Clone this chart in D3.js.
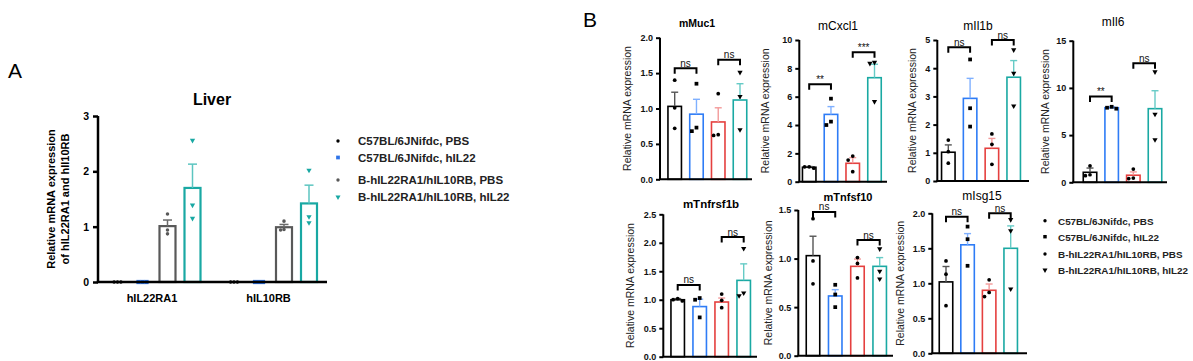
<!DOCTYPE html>
<html><head><meta charset="utf-8">
<script src="https://cdn.jsdelivr.net/npm/d3@7"></script>
<style>body{margin:0;background:#fff}svg{display:block}text{font-family:"Liberation Sans",Arial,sans-serif}</style>
</head><body><svg id="c" width="1193" height="361"></svg>
<script>
// ---------- DATA ----------
const groups = ["C57BL/6JNifdc, PBS","C57BL/6JNifdc, hIL22","B-hIL22RA1/hIL10RB, PBS","B-hIL22RA1/hIL10RB, hIL22"];
// Panel A
const genesA = ["hIL22RA1","hIL10RB"];
const ticksA = [0,1,2,3];
const meanA_hIL22RA1 = [0,0,1.01,1.70];
const semA_hIL22RA1  = [0,0,0.11,0.43];
const ptsA_hIL22RA1  = [[0,0,0],[0,0,0],[1.23,0.94,0.87],[2.56,1.39,1.15]];
const meanA_hIL10RB  = [0,0,0.99,1.42];
const semA_hIL10RB   = [0,0,0.05,0.33];
const ptsA_hIL10RB   = [[0,0,0],[0,0,0],[1.10,0.95,0.94],[2.02,1.18,1.07]];
// Panel B
const genesB = ["mMuc1","mCxcl1","mIl1b","mIl6","mTnfrsf1b","mTnfsf10","mIsg15"];
const mMuc1_mean = [1.03,0.92,0.81,1.12];
const mMuc1_sem  = [0.20,0.21,0.20,0.23];
const mMuc1_pts  = [[1.40,1.01,0.72],[1.35,0.73,0.68],[1.21,0.63,0.62],[1.51,1.17,0.70]];
const mMuc1_sig  = [[0,1,1.57,"ns"],[2,3,1.69,"ns"]];
const mMuc1_ticks = [0,0.5,1,1.5,2];
const mCxcl1_mean = [1.02,4.75,1.30,7.34];
const mCxcl1_sem  = [0.05,0.55,0.40,0.95];
const mCxcl1_pts  = [[0.95,1.05,1.05],[5.86,4.24,4.00],[1.81,1.53,0.71],[8.35,8.42,5.65]];
const mCxcl1_sig  = [[0,1,6.87,"**"],[2,3,9.13,"***"]];
const mCxcl1_ticks = [0,2,4,6,8,10];
const mIl1b_mean = [1.02,2.93,1.16,3.68];
const mIl1b_sem  = [0.26,0.71,0.35,0.59];
const mIl1b_pts  = [[1.45,1.04,0.63],[4.31,2.58,1.93],[1.67,1.30,0.59],[4.65,3.82,2.66]];
const mIl1b_sig  = [[0,1,4.74,"ns"],[2,3,5.0,"ns"]];
const mIl1b_ticks = [0,1,2,3,4,5];
const mIl6_mean = [1.06,7.90,0.75,7.80];
const mIl6_sem  = [0.45,0.10,0.35,1.90];
const mIl6_pts  = [[1.75,0.80,0.70],[7.80,8.00,7.90],[1.40,0.45,0.40],[11.7,7.20,4.50]];
const mIl6_sig  = [[0,1,9.1,"**"],[2,3,12.6,"ns"]];
const mIl6_ticks = [0,5,10,15];
const mTnfrsf1b_mean = [1.00,0.88,0.96,1.34];
const mTnfrsf1b_sem  = [0.02,0.13,0.07,0.29];
const mTnfrsf1b_pts  = [[0.98,1.02,1.00],[1.03,1.00,0.69],[1.10,0.99,0.86],[1.90,1.12,1.07]];
const mTnfrsf1b_sig  = [[0,1,1.26,"ns"],[2,3,2.10,"ns"]];
const mTnfrsf1b_ticks = [0,0.5,1,1.5,2,2.5];
const mTnfsf10_mean = [1.03,0.615,0.92,0.92];
const mTnfsf10_sem  = [0.20,0.065,0.075,0.09];
const mTnfsf10_pts  = [[1.41,0.975,0.74],[0.73,0.63,0.50],[1.01,0.95,0.80],[1.10,0.87,0.79]];
const mTnfsf10_sig  = [[0,1,1.48,"ns"],[2,3,1.19,"ns"]];
const mTnfsf10_ticks = [0,0.5,1,1.5];
const mIsg15_mean = [1.02,1.55,0.90,1.50];
const mIsg15_sem  = [0.22,0.16,0.09,0.32];
const mIsg15_pts  = [[1.32,1.13,0.68],[1.81,1.63,1.25],[1.05,0.87,0.81],[1.91,1.75,0.92]];
const mIsg15_sig  = [[0,1,1.95,"ns"],[2,3,2.0,"ns"]];
const mIsg15_ticks = [0,0.5,1,1.5,2];

// ---------- STYLE / LAYOUT ----------
const colA = ["#000000","#2f74e8","#595959","#19a8a3"];
const errA = ["#000000","#2f74e8","#6a6a6a","#5cc5c0"];
const colB = ["#000000","#2e7cf6","#e5403f","#1aa9a3"];
const errB = ["#555555","#7fb0ff","#f39a9a","#66cbc6"];
const shapes = [d3.symbolCircle, d3.symbolSquare, d3.symbolCircle, d3.symbolTriangle];

const svg = d3.select("#c");

function marker(g, shapeIdx, x, y, size, color){
  const s = d3.symbol().type(shapes[shapeIdx]).size(size);
  g.append("path").attr("d", s()).attr("fill", color)
   .attr("transform", `translate(${x},${y})` + (shapeIdx===3 ? " rotate(180)" : ""));
}
function swarm(vals, ys, d){
  const placed = [];
  const order = vals.map((v,i)=>i).sort((a,b)=>vals[b]-vals[a]);
  const out = [];
  order.forEach(i=>{
    const y = ys(vals[i]);
    const cands = [0,-d,d,-2*d,2*d];
    let off = 0;
    for(const c of cands){
      if(placed.every(p=>Math.hypot(p[0]-c,p[1]-y) >= d*0.95)){ off=c; break; }
    }
    placed.push([off,y]); out[i]=[off,y];
  });
  return out;
}

// ---------- PANEL A ----------
(function(){
  const g = svg.append("g");
  g.append("text").attr("x",8).attr("y",78).attr("font-size",21).text("A");
  const ax = 98, yTop=116, yBot=282, xEnd=327;
  const y = d3.scaleLinear().domain([0,3]).range([yBot,yTop]);
  const gx = d3.scalePoint().domain(genesA).range([155,271.5]);
  const sx = d3.scalePoint().domain(d3.range(4)).range([-37.5,37.5]);
  const means = {hIL22RA1:meanA_hIL22RA1, hIL10RB:meanA_hIL10RB};
  const sems = {hIL22RA1:semA_hIL22RA1, hIL10RB:semA_hIL10RB};
  const pts = {hIL22RA1:ptsA_hIL22RA1, hIL10RB:ptsA_hIL10RB};
  const bw = 16;
  genesA.forEach(gene=>{
    groups.forEach((grp,i)=>{
      const cx = gx(gene)+sx(i);
      const m = means[gene][i], s = sems[gene][i];
      if(m>0){
        g.append("rect").attr("x",cx-bw/2).attr("y",y(m)).attr("width",bw).attr("height",yBot-y(m))
         .attr("fill","#fff").attr("stroke",colA[i]).attr("stroke-width",2.2);
        g.append("line").attr("x1",cx).attr("x2",cx).attr("y1",y(m)).attr("y2",y(m+s)).attr("stroke",errA[i]).attr("stroke-width",1.5);
        g.append("line").attr("x1",cx-4.5).attr("x2",cx+4.5).attr("y1",y(m+s)).attr("y2",y(m+s)).attr("stroke",errA[i]).attr("stroke-width",1.5);
      }
      const d = i===1 ? 4 : 3.4;
      const sw = swarm(pts[gene][i], y, d);
      sw.forEach(p=>marker(g, i, cx+p[0], p[1], i===1?18:(i===3?12:10), colA[i]));
    });
  });
  const ya = d3.axisLeft(y).tickValues(ticksA).tickSize(5).tickPadding(4).tickFormat(d3.format("d"));
  const yg = g.append("g").attr("transform",`translate(${ax},0)`).call(ya);
  yg.select(".domain").attr("stroke","#000").attr("stroke-width",2.5).attr("d",`M0,${yTop}V${yBot}`);
  yg.selectAll(".tick line").attr("stroke","#000").attr("stroke-width",2.5);
  yg.selectAll(".tick text").attr("font-size",10.5).attr("font-weight","bold").attr("fill","#000");
  g.append("line").attr("x1",ax-1.2).attr("x2",xEnd).attr("y1",yBot).attr("y2",yBot).attr("stroke","#000").attr("stroke-width",2.5);
  genesA.forEach(gene=>{
    g.append("text").attr("x",gx(gene)-3).attr("y",302).attr("text-anchor","middle").attr("font-size",11).attr("font-weight","bold").text(gene);
  });
  g.append("text").attr("x",212).attr("y",105).attr("text-anchor","middle").attr("font-size",16).attr("font-weight","bold").text("Liver");
  const lab = g.append("text").attr("transform",`translate(55,199) rotate(-90)`).attr("text-anchor","middle").attr("font-size",11).attr("font-weight","bold");
  lab.append("tspan").attr("x",0).attr("dy",0).text("Relative mRNA expression");
  lab.append("tspan").attr("x",0).attr("dy",14).text("of hIL22RA1 and hIl10RB");
  // legend A
  const ly = [141,157.5,180,197];
  groups.forEach((grp,i)=>{
    marker(g, i, 338, ly[i], i===1?14:(i===3?11:9), colA[i]);
    g.append("text").attr("x",358).attr("y",ly[i]+4).attr("font-size",11.5).attr("font-weight","bold").attr("fill","#222").text(grp);
  });
})();

// ---------- PANEL B ----------
const layoutB = {
  mMuc1:     {ax:660,   yTop:37.7, yBot:179.3, max:2,   fmt:".1f", c0:674.7, c3:740,   end:752,  tx:697,  ty:27,  ts:10.5, tb:true,  lx:627},
  mCxcl1:    {ax:799.3, yTop:40,   yBot:181.7, max:10,  fmt:"d",   c0:809.2, c3:874.5, end:887,  tx:838,  ty:30,  ts:12,   tb:false, lx:765},
  mIl1b:     {ax:937.3, yTop:40,   yBot:181,   max:5,   fmt:"d",   c0:948.3, c3:1013.7,end:1029, tx:978,  ty:30,  ts:12,   tb:false, lx:912},
  mIl6:      {ax:1073.3,yTop:40.7, yBot:182.3, max:15,  fmt:"d",   c0:1090,  c3:1155,  end:1167, tx:1113, ty:26,  ts:12,   tb:false, lx:1045},
  mTnfrsf1b: {ax:663.3, yTop:214.3,yBot:356.7, max:2.5, fmt:".1f", c0:677.7, c3:743.7, end:757,  tx:711,  ty:208, ts:11.5, tb:true,  lx:630},
  mTnfsf10:  {ax:798.3, yTop:210,  yBot:355.7, max:1.5, fmt:".1f", c0:813,   c3:879.7, end:893,  tx:848,  ty:201, ts:11,   tb:true,  lx:768},
  mIsg15:    {ax:932.3, yTop:213.3,yBot:353.3, max:2,   fmt:".1f", c0:946,   c3:1010.7,end:1027, tx:982,  ty:200, ts:12,   tb:false, lx:900}
};
const dataB = {
  mMuc1:[mMuc1_mean,mMuc1_sem,mMuc1_pts,mMuc1_sig,mMuc1_ticks],
  mCxcl1:[mCxcl1_mean,mCxcl1_sem,mCxcl1_pts,mCxcl1_sig,mCxcl1_ticks],
  mIl1b:[mIl1b_mean,mIl1b_sem,mIl1b_pts,mIl1b_sig,mIl1b_ticks],
  mIl6:[mIl6_mean,mIl6_sem,mIl6_pts,mIl6_sig,mIl6_ticks],
  mTnfrsf1b:[mTnfrsf1b_mean,mTnfrsf1b_sem,mTnfrsf1b_pts,mTnfrsf1b_sig,mTnfrsf1b_ticks],
  mTnfsf10:[mTnfsf10_mean,mTnfsf10_sem,mTnfsf10_pts,mTnfsf10_sig,mTnfsf10_ticks],
  mIsg15:[mIsg15_mean,mIsg15_sem,mIsg15_pts,mIsg15_sig,mIsg15_ticks]
};
svg.append("text").attr("x",583).attr("y",27).attr("font-size",21).text("B");
genesB.forEach(gene=>{
  const L = layoutB[gene];
  const [mean, sem, pts, sig, ticks] = dataB[gene];
  const g = svg.append("g");
  const y = d3.scaleLinear().domain([0,L.max]).range([L.yBot,L.yTop]);
  const x = d3.scalePoint().domain(d3.range(4)).range([L.c0,L.c3]);
  const bw = 13.5;
  mean.forEach((m,i)=>{
    const cx = x(i);
    g.append("rect").attr("x",cx-bw/2).attr("y",y(m)).attr("width",bw).attr("height",L.yBot-y(m))
     .attr("fill","#fff").attr("stroke",colB[i]).attr("stroke-width",1.6);
    const t = y(m+sem[i]);
    g.append("line").attr("x1",cx).attr("x2",cx).attr("y1",y(m)).attr("y2",t).attr("stroke",errB[i]).attr("stroke-width",1.4);
    g.append("line").attr("x1",cx-3.5).attr("x2",cx+3.5).attr("y1",t).attr("y2",t).attr("stroke",errB[i]).attr("stroke-width",1.4);
    const sw = swarm(pts[i], y, 4.6);
    sw.forEach(p=>marker(g, i, cx+p[0], p[1], i===1?14:(i===3?12:11), "#000"));
  });
  const ya = d3.axisLeft(y).tickValues(ticks).tickSize(4).tickPadding(3).tickFormat(d3.format(L.fmt));
  const yg = g.append("g").attr("transform",`translate(${L.ax},0)`).call(ya);
  yg.select(".domain").attr("stroke","#000").attr("stroke-width",2).attr("d",`M0,${L.yTop}V${L.yBot}`);
  yg.selectAll(".tick line").attr("stroke","#000").attr("stroke-width",2);
  yg.selectAll(".tick text").attr("font-size",9).attr("font-weight","bold").attr("fill","#111");
  g.append("line").attr("x1",L.ax-1).attr("x2",L.end).attr("y1",L.yBot).attr("y2",L.yBot).attr("stroke","#000").attr("stroke-width",2);
  // significance
  sig.forEach(([a,b,lvl,lab])=>{
    const yy = y(lvl);
    g.append("path").attr("d",`M${x(a)},${yy+5.5}V${yy}H${x(b)}V${yy+5.5}`).attr("fill","none").attr("stroke","#000").attr("stroke-width",2);
    g.append("text").attr("x",(x(a)+x(b))/2).attr("y",lab==="ns"?yy-1.5:yy-1).attr("text-anchor","middle").attr("font-size",10).attr("fill","#111").text(lab);
  });
  g.append("text").attr("x",L.tx).attr("y",L.ty).attr("text-anchor","middle").attr("font-size",L.ts).attr("font-weight",L.tb?"bold":"normal").attr("fill","#000").text(gene);
  g.append("text").attr("transform",`translate(${L.lx+3.5},${(L.yTop+L.yBot)/2}) rotate(-90)`).attr("text-anchor","middle")
   .attr("font-size",10.5).attr("fill","#222").text("Relative mRNA expression");
});
// legend B
const lyB = [220.7,236.7,254,270];
groups.forEach((grp,i)=>{
  marker(svg, i, 1045, lyB[i], i===1?12:(i===3?11:9), "#000");
  svg.append("text").attr("x",1058).attr("y",lyB[i]+4).attr("font-size",9.9).attr("font-weight","bold").attr("fill","#222").text(grp);
});
</script></body></html>
